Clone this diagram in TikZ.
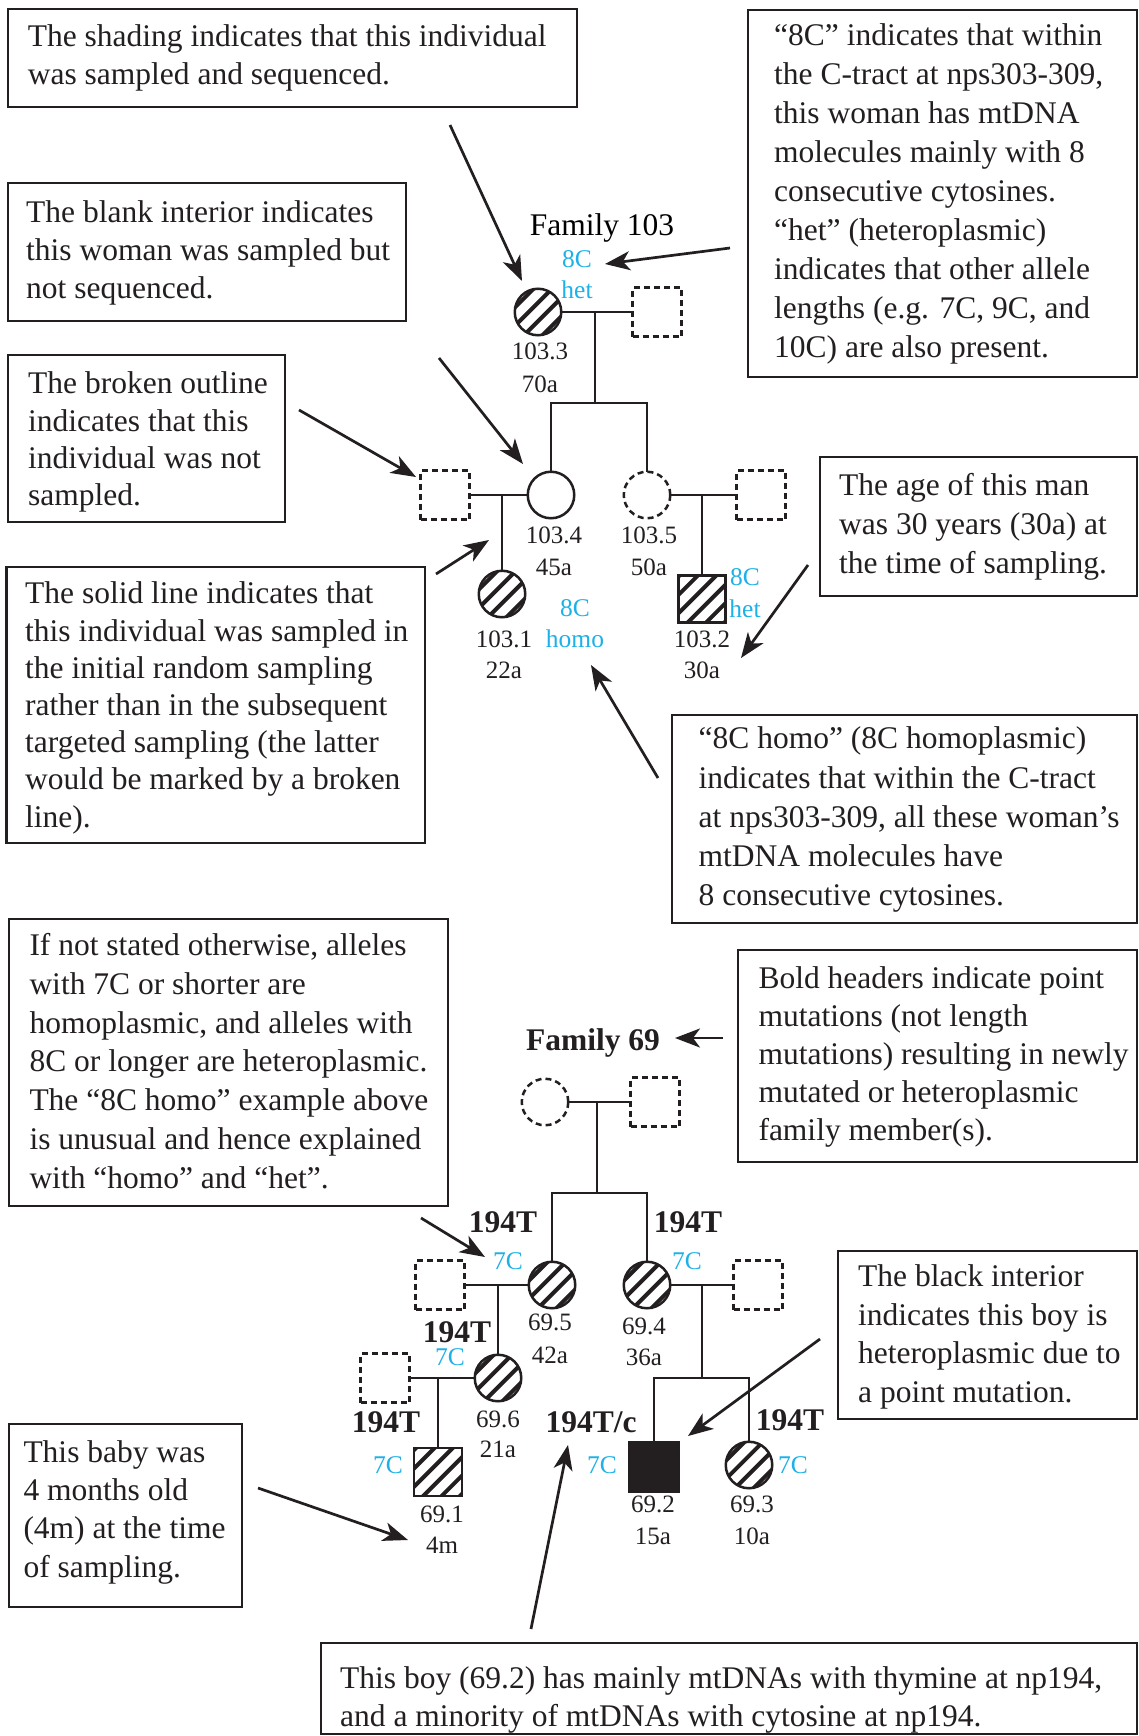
\documentclass[tikz,border=0pt]{standalone}
\usepackage{fontspec}
\setmainfont{Liberation Serif}
\usetikzlibrary{arrows.meta,calc}
\definecolor{ink}{HTML}{231F20}
\definecolor{cy}{HTML}{1CB1E8}
\tikzset{
  pline/.style={draw=ink, line width=2.5pt},
  arr/.style={draw=ink, line width=2.7pt, -{Stealth[length=25pt,width=19pt,inset=7pt]}},
  boxst/.style={draw=ink, line width=2.7pt, inner sep=0pt, outer sep=0pt, anchor=north west},
  btext/.style={font=\fontsize{31.5}{#1}\selectfont, anchor=north west, align=left, inner sep=0pt, text=ink},
  btext/.default=38.5,
  fem/.style={circle, draw=ink, line width=2.5pt, minimum size=46.5pt, inner sep=0pt, outer sep=0pt},
  mal/.style={rectangle, draw=ink, line width=2.5pt, minimum size=49pt, inner sep=0pt, outer sep=0pt},
  unsamp/.style={dash pattern=on 6pt off 4pt},
  lbl/.style={font=\fontsize{25}{25}\selectfont, anchor=base, inner sep=0pt, text=ink},
  cyl/.style={font=\fontsize{25.5}{25.5}\selectfont, anchor=base, inner sep=0pt, text=cy},
  bld/.style={font=\fontsize{31.5}{31.5}\selectfont\bfseries, anchor=base, inner sep=0pt, text=ink},
}
\newcommand\hatchc[2]{\begin{scope}\clip (#1,#2) circle (23.25);
  \foreach \k in {-1.5,-0.5,0.5,1.5}{\draw[ink, line width=4pt] ($(#1,#2)+(\k*9.2,\k*9.2)+(-40,40)$) -- ++(80,-80);}
  \end{scope}}
\newcommand\hatchs[3]{\begin{scope}\clip ($(#1,#2)-(#3,#3)$) rectangle ($(#1,#2)+(#3,#3)$);
  \foreach \k in {-2.5,-1.5,-0.5,0.5,1.5,2.5}{\draw[ink, line width=4pt] ($(#1,#2)+(\k*9.2,\k*9.2)+(-50,50)$) -- ++(100,-100);}
  \end{scope}}
\newcommand\tbox[5]{\node[boxst, minimum width={#4-#2}, minimum height={#5-#3}] (#1) at (#2,#3) {};}
\begin{document}
\begin{tikzpicture}[x=1pt,y=-1pt]
\useasboundingbox (0,0) rectangle (1139,1736);
\fill[white] (0,0) rectangle (1139,1736);

% ---------- boxes ----------
\tbox{b1}{8}{9}{577}{107}
\node[btext=38.7] (t1) at (27.6,24.2) {The shading indicates that this individual\\was sampled and sequenced.};
\tbox{b2}{8}{183}{406}{321}
\node[btext=38] (t2) at (26,200.5) {The blank interior indicates\\this woman was sampled but\\not sequenced.};
\tbox{b3}{748}{10}{1137}{377}
\node[btext=39] (t3) at (774,23.5) {“8C” indicates that within\\the C-tract at nps303-309,\\this woman has mtDNA\\molecules mainly with 8\\consecutive cytosines.\\“het” (heteroplasmic)\\indicates that other allele\\lengths (e.g. 7C, 9C, and\\10C) are also present.};
\tbox{b4}{8}{355}{285}{522}
\node[btext=37.2] (t4) at (28,371.8) {The broken outline\\indicates that this\\individual was not\\sampled.};
\tbox{b5}{6.5}{567}{425}{843}
\node[btext=37.2] (t5) at (25,581.8) {The solid line indicates that\\this individual was sampled in\\the initial random sampling\\rather than in the subsequent\\targeted sampling (the latter\\would be marked by a broken\\line).};
\tbox{b6}{820}{457}{1137}{596}
\node[btext=39] (t6) at (839,473.5) {The age of this man\\was 30 years (30a) at\\the time of sampling.};
\tbox{b7}{672}{715}{1137}{923}
\node[btext=39.2] (t7) at (698.5,726.8) {“8C homo” (8C homoplasmic)\\indicates that within the C-tract\\at nps303-309, all these woman’s\\mtDNA molecules have\\8 consecutive cytosines.};
\tbox{b8}{9}{919}{448}{1206}
\node[btext=38.7] (t8) at (29.3,933.5) {If not stated otherwise, alleles\\with 7C or shorter are\\homoplasmic, and alleles with\\8C or longer are heteroplasmic.\\The “8C homo” example above\\is unusual and hence explained\\with “homo” and “het”.};
\tbox{b9}{738}{950}{1137}{1162}
\node[btext=38] (t9) at (758.3,966.5) {Bold headers indicate point\\mutations (not length\\mutations) resulting in newly\\mutated or heteroplasmic\\family member(s).};
\tbox{b10}{838}{1251}{1137}{1419}
\node[btext=38.7] (t10) at (858,1264.5) {The black interior\\indicates this boy is\\heteroplasmic due to\\a point mutation.};
\tbox{b11}{9}{1424}{242}{1607}
\node[btext=38.3] (t11) at (23.3,1440.2) {This baby was\\4 months old\\(4m) at the time\\of sampling.};
\tbox{b12}{321}{1643}{1137}{1734}
\node[btext=38] (t12) at (340,1666.5) {This boy (69.2) has mainly mtDNAs with thymine at np194,\\and a minority of mtDNAs with cytosine at np194.};

% ---------- Family 103 ----------
\node[font=\fontsize{31.5}{31.5}\selectfont, anchor=base, inner sep=0pt] (fam103) at (602,236) {Family 103};
\hatchc{538}{312}
\node[fem] (p1033) at (538,312) {};
\node[mal,unsamp] (p1033s) at (657,312) {};
\draw[pline] (p1033.east) -- (p1033s.west);
\coordinate (j1) at (595,312);
\coordinate (j1b) at (595,403);
\coordinate (sb1l) at (551,403);
\coordinate (sb1r) at (647,403);
\draw[pline] (j1) -- (j1b);
\node[fem] (p1034) at (551,495) {};
\node[fem,unsamp] (p1035) at (647,495) {};
\draw[pline] (p1034.north) -- (sb1l) -- (sb1r) -- (p1035.north);
\node[mal,unsamp] (p1034s) at (445,495) {};
\draw[pline] (p1034s.east) -- (p1034.west);
\coordinate (j2) at (502,495);
\hatchc{502}{594}
\node[fem] (p1031) at (502,594) {};
\draw[pline] (j2) -- (p1031.north);
\node[mal,unsamp] (p1035s) at (761,495) {};
\draw[pline] (p1035.east) -- (p1035s.west);
\coordinate (j3) at (702,495);
\hatchs{702}{599}{23.5}
\node[mal, minimum size=47pt] (p1032) at (702,599) {};
\draw[pline] (j3) -- (p1032.north);

\node[cyl] (c1a) at (577,268) {8C};
\node[cyl] (c1b) at (577,298) {het};
\node[lbl] (l1033) at (540,359) {103.3};
\node[lbl] (a1033) at (540,392) {70a};
\node[lbl] (l1034) at (554,543) {103.4};
\node[lbl] (a1034) at (554,575) {45a};
\node[lbl] (l1035) at (649,543) {103.5};
\node[lbl] (a1035) at (649,575) {50a};
\node[lbl] (l1031) at (504,647) {103.1};
\node[lbl] (a1031) at (504,678) {22a};
\node[cyl] (c2a) at (575,616) {8C};
\node[cyl] (c2b) at (575,647) {homo};
\node[lbl] (l1032) at (702,647) {103.2};
\node[lbl] (a1032) at (702,678) {30a};
\node[cyl] (c3a) at (745,585) {8C};
\node[cyl] (c3b) at (745,617) {het};

% ---------- Family 69 ----------
\node[bld] (fam69) at (593,1050) {Family 69};
\node[fem,unsamp] (q1) at (545,1102) {};
\node[mal,unsamp] (q2) at (655,1102) {};
\draw[pline] (q1.east) -- (q2.west);
\coordinate (k1) at (597,1102);
\coordinate (k1b) at (597,1193);
\draw[pline] (k1) -- (k1b);
\coordinate (sb2l) at (552,1193);
\coordinate (sb2r) at (647,1193);
\hatchc{552}{1285}
\node[fem] (p695) at (552,1285) {};
\hatchc{647}{1285}
\node[fem] (p694) at (647,1285) {};
\draw[pline] (p695.north) -- (sb2l) -- (sb2r) -- (p694.north);
\node[mal,unsamp] (p695s) at (440,1285) {};
\draw[pline] (p695s.east) -- (p695.west);
\coordinate (k2) at (498,1285);
\hatchc{498}{1378}
\node[fem] (p696) at (498,1378) {};
\draw[pline] (k2) -- (p696.north);
\node[mal,unsamp] (p694s) at (758,1285) {};
\draw[pline] (p694.east) -- (p694s.west);
\coordinate (k3) at (702,1285);
\coordinate (k3b) at (702,1378);
\draw[pline] (k3) -- (k3b);
\coordinate (sb3l) at (654,1378);
\coordinate (sb3r) at (749,1378);
\node[mal, fill=ink] (p692) at (654,1467) {};
\hatchc{749}{1465}
\node[fem] (p693) at (749,1465) {};
\draw[pline] (p692.north) -- (sb3l) -- (sb3r) -- (p693.north);
\node[mal,unsamp] (p696s) at (385,1378) {};
\draw[pline] (p696s.east) -- (p696.west);
\coordinate (k4) at (438,1378);
\hatchs{438}{1472}{24}
\node[mal, minimum size=48pt] (p691) at (438,1472) {};
\draw[pline] (k4) -- (p691.north);

\node[bld] (h695) at (503,1232) {194T};
\node[cyl] (c695) at (508,1269) {7C};
\node[lbl] (l695) at (550,1330) {69.5};
\node[lbl] (a695) at (550,1363) {42a};
\node[bld] (h694) at (688,1232) {194T};
\node[cyl] (c694) at (687,1269) {7C};
\node[lbl] (l694) at (644,1334) {69.4};
\node[lbl] (a694) at (644,1365) {36a};
\node[bld] (h696) at (457,1342) {194T};
\node[cyl] (c696) at (450,1365) {7C};
\node[lbl] (l696) at (498,1427) {69.6};
\node[lbl] (a696) at (498,1457) {21a};
\node[bld] (h691) at (386,1432) {194T};
\node[cyl] (c691) at (388,1473) {7C};
\node[lbl] (l691) at (442,1522) {69.1};
\node[lbl] (a691) at (442,1553) {4m};
\node[bld] (h692) at (591,1432) {194T/c};
\node[cyl] (c692) at (602,1473) {7C};
\node[lbl] (l692) at (653,1512) {69.2};
\node[lbl] (a692) at (653,1544) {15a};
\node[bld] (h693) at (790,1430) {194T};
\node[cyl] (c693) at (793,1473) {7C};
\node[lbl] (l693) at (752,1512) {69.3};
\node[lbl] (a693) at (752,1544) {10a};

% ---------- arrows ----------
\coordinate (a1s) at (450,125);  \coordinate (a1e) at (522,281);
\coordinate (a2s) at (730,248);  \coordinate (a2e) at (605,264);
\coordinate (a3s) at (439,358);  \coordinate (a3e) at (523,464);
\coordinate (a4s) at (299,410);  \coordinate (a4e) at (416,477);
\coordinate (a5s) at (436,574);  \coordinate (a5e) at (489,540);
\coordinate (a6s) at (808,565);  \coordinate (a6e) at (741,658);
\coordinate (a7s) at (658,778);  \coordinate (a7e) at (591,665);
\coordinate (a8s) at (723,1038); \coordinate (a8e) at (675,1038);
\coordinate (a9s) at (421,1218); \coordinate (a9e) at (485,1257);
\coordinate (a10s) at (820,1339); \coordinate (a10e) at (688,1436);
\coordinate (a11s) at (258,1488); \coordinate (a11e) at (408,1540);
\coordinate (a12s) at (531,1629); \coordinate (a12e) at (568,1445);
\foreach \i in {1,...,12}{\draw[arr] (a\i s) -- (a\i e);}
\end{tikzpicture}
\end{document}
